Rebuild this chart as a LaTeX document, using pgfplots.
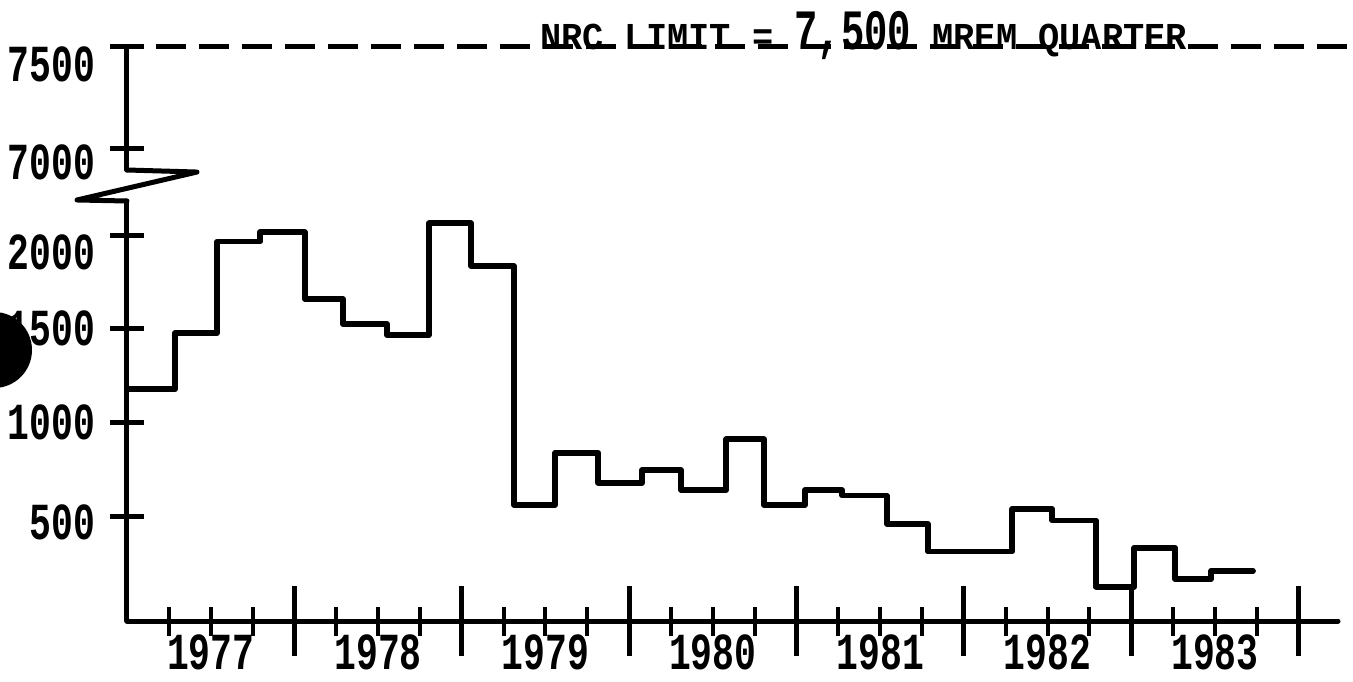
\documentclass[border=0pt]{standalone}
\usepackage{pgfplots}
\pgfplotsset{compat=1.18}
\usepackage{graphicx}
\usepackage{fontspec}
\newfontfamily\tickfont[FakeStretch=0.7]{Liberation Mono}
\newfontfamily\titlefont[FakeStretch=0.93]{Liberation Mono}
\begin{document}
\begin{tikzpicture}
\useasboundingbox (-63.5pt,-30pt) rectangle (613pt,310.5pt);
\pgfplotsset{
  common/.style={
    scale only axis, width=605.5pt, xmin=0, xmax=28.94, clip=false,
    ticklabel style={font=\tickfont\bfseries\fontsize{26}{26}\selectfont, inner sep=0pt},
  },
  nolinearrows/.style={
    axis line style={-, line width=2.5pt, line cap=round},
    x axis line style={-, line width=2.5pt, line cap=round},
    y axis line style={-, line width=2.5pt, line cap=round},
    every outer x axis line/.append style={-},
    every outer y axis line/.append style={-},
  }
}
% lower part of the broken axis
\begin{axis}[common, at={(0,0)}, anchor=south west, height=210pt,
  ymin=-60, ymax=2182,
  axis x line=bottom, axis y line=left, nolinearrows,
  tick align=center,
  xtick={4,8,...,28}, xticklabels={},
  minor xtick={1,3,...,27},
  major tick length=35pt, minor tick length=14.5pt,
  major tick style={line width=2.5pt, black},
  minor tick style={line width=2pt, black},
  extra x ticks={2,6,...,26},
  extra x tick labels={1977,1978,1979,1980,1981,1982,1983},
  extra x tick style={major tick length=14.5pt, major tick style={line width=2pt, black},
    xticklabel style={anchor=center, yshift=-8.5pt}},
  ytick=\empty,
  extra y ticks={500,1000,1500,2000},
  extra y tick labels={\raisebox{-3pt}{500},1000,1500,\raisebox{-8.5pt}{2000}},
  extra y tick style={major tick length=16.5pt,
    yticklabel style={anchor=base east, xshift=-7.5pt, yshift=-8.5pt}},
]
\addplot[const plot, line width=2.8pt, line join=round, line cap=round, black, mark=none]
coordinates {
(0,1177) (1.15,1476) (2.15,1965) (3.18,2015)
(4.25,1659) (5.16,1525) (6.21,1467) (7.22,2063)
(8.22,1835) (9.25,559) (10.23,838) (11.26,678)
(12.31,746) (13.24,639) (14.32,910) (15.22,559)
(16.20,639) (17.09,609) (18.16,458) (19.14,310)
(20.12,310) (21.15,538) (22.11,477) (23.16,123)
(24.07,331) (25.05,164) (25.91,208) (26.91,208)
};
\end{axis}
% upper part of the broken axis
\begin{axis}[common, at={(0,225.5pt)}, anchor=south west, height=61.5pt,
  ymin=6897, ymax=7500,
  axis x line=none, axis y line=left, nolinearrows,
  tick align=center,
  ytick={7000,7500}, yticklabels={\raisebox{-7pt}{7000},\raisebox{-9pt}{7500}},
  major tick length=16.5pt, major tick style={line width=2.5pt, black},
  yticklabel style={anchor=base east, xshift=-7.5pt, yshift=-8.5pt},
]
\addplot[line width=2.5pt, dash pattern=on 15pt off 6.5pt, mark=none, black]
coordinates {(-0.33,7500) (29.3,7500)};
\draw[line width=2.5pt, line join=round, line cap=round]
  (axis cs:0,6897) -- (axis cs:1.673,6887) -- (axis cs:-1.195,6750) -- (axis cs:0,6745);
\node[anchor=base, yshift=-1.25pt, inner sep=0pt,
  font=\titlefont\bfseries\fontsize{19}{19}\selectfont]
  at (axis cs:17.6,7500) {NRC LIMIT = \scalebox{1.1}[1.5]{7,500} MREM QUARTER};
\end{axis}
\begin{scope}
\clip (-63.5pt,-30pt) rectangle (613pt,310.5pt);
\fill (-66.5pt,135.5pt) circle (19pt);
\end{scope}
\end{tikzpicture}
\end{document}
